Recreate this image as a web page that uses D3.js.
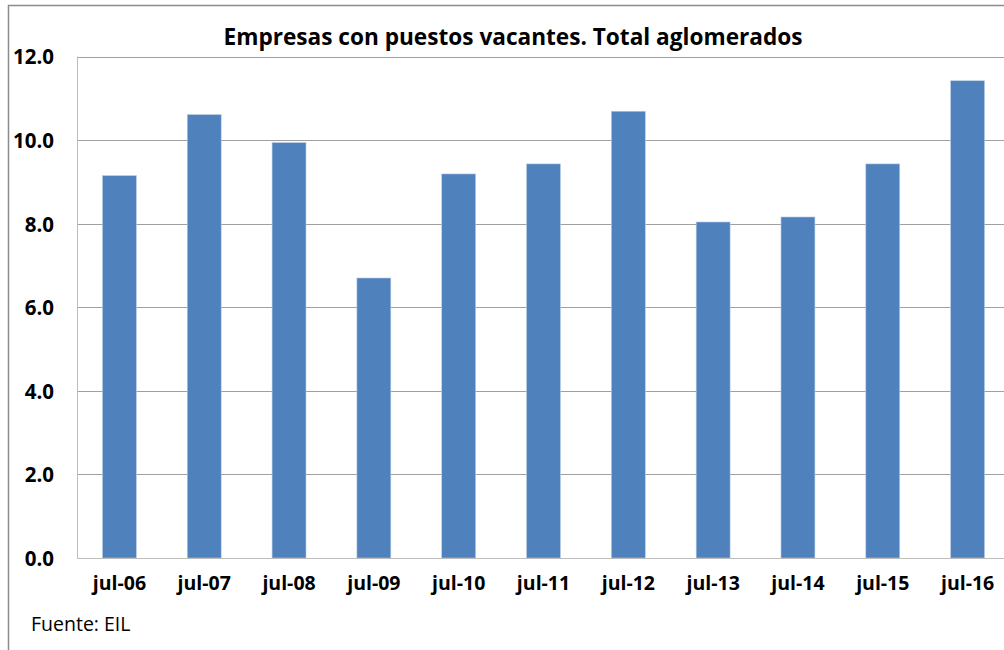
<!DOCTYPE html>
<html>
<head>
<meta charset="utf-8">
<script src="https://cdn.jsdelivr.net/npm/d3@7"></script>
<style>
  html, body { margin: 0; padding: 0; background: #fff; }
  svg { display: block; }
</style>
</head>
<body>
<div id="chart"></div>
<script>
// chart data
const categories = ["jul-06", "jul-07", "jul-08", "jul-09", "jul-10", "jul-11",
                    "jul-12", "jul-13", "jul-14", "jul-15", "jul-16"];
const values = [9.15, 10.61, 9.94, 6.70, 9.19, 9.43, 10.69, 8.04, 8.16, 9.43, 11.42];
const yTicks = [0, 2, 4, 6, 8, 10, 12];
const title = "Empresas con puestos vacantes. Total aglomerados";
const source = "Fuente: EIL";

const W = 1004, H = 650;
const plot = { left: 77, top: 56.5, right: 1010, bottom: 558 };

const svg = d3.select("#chart")
    .append("svg")
    .attr("width", W)
    .attr("height", H);

// outer chart border
svg.append("rect")
    .attr("x", 8.5)
    .attr("y", 5.5)
    .attr("width", W + 20)
    .attr("height", H + 20)
    .attr("fill", "none")
    .attr("stroke", "#8c8c8c")
    .attr("stroke-width", 1.5);

const x = d3.scaleBand()
    .domain(categories)
    .range([plot.left, plot.right])
    .paddingInner(0.6)
    .paddingOuter(0.3);

const y = d3.scaleLinear()
    .domain([0, 12])
    .range([plot.bottom, plot.top]);

// gridlines
svg.append("g")
    .selectAll("line")
    .data(yTicks.filter(d => d > 0))
    .enter()
    .append("line")
    .attr("x1", plot.left)
    .attr("x2", W)
    .attr("y1", d => Math.round(y(d)) + 0.5)
    .attr("y2", d => Math.round(y(d)) + 0.5)
    .attr("stroke", "#a0a0a0")
    .attr("stroke-width", 1);

// bars
svg.append("g")
    .selectAll("rect")
    .data(values)
    .enter()
    .append("rect")
    .attr("x", (d, i) => x(categories[i]))
    .attr("y", d => y(d))
    .attr("width", x.bandwidth())
    .attr("height", d => y(0) - y(d))
    .attr("fill", "#4f81bd")
    .attr("stroke", "#b9cde5")
    .attr("stroke-width", 0.6);

// axis lines
svg.append("line")
    .attr("x1", plot.left + 0.5).attr("x2", plot.left + 0.5)
    .attr("y1", plot.top).attr("y2", plot.bottom)
    .attr("stroke", "#bdbdbd");
svg.append("line")
    .attr("x1", plot.left).attr("x2", W)
    .attr("y1", plot.bottom + 0.5).attr("y2", plot.bottom + 0.5)
    .attr("stroke", "#bdbdbd");

// y axis
const yAxis = svg.append("g")
    .attr("transform", `translate(${plot.left},0)`)
    .call(d3.axisLeft(y).tickValues(yTicks).tickFormat(d3.format(".1f")).tickSize(0).tickPadding(23));
yAxis.select(".domain").remove();
yAxis.selectAll("text")
    .attr("dy", "0.36em")
    .style("font-family", "'Open Sans', sans-serif")
    .style("font-weight", "bold")
    .style("font-size", "20.5px")
    .style("fill", "#000");

// x axis
const xAxis = svg.append("g")
    .attr("transform", `translate(0,${plot.bottom})`)
    .call(d3.axisBottom(x).tickSize(0).tickPadding(18));
xAxis.select(".domain").remove();
xAxis.selectAll("text")
    .attr("dy", "0.71em")
    .style("font-family", "'Open Sans', sans-serif")
    .style("font-weight", "bold")
    .style("font-size", "19.5px")
    .style("fill", "#000");

// title
const t = svg.append("text")
    .attr("x", 513)
    .attr("y", 45)
    .attr("text-anchor", "middle")
    .style("font-family", "'Open Sans', sans-serif")
    .style("font-weight", "bold")
    .style("font-size", "21px")
    .style("fill", "#000")
    .text(title);
const tw = t.node().getComputedTextLength();
if (tw > 0) t.style("font-size", (21 * 579 / tw) + "px");

// source note
svg.append("text")
    .attr("x", 31)
    .attr("y", 631)
    .style("font-family", "'Open Sans', sans-serif")
    .style("font-size", "19.5px")
    .style("fill", "#000")
    .text(source);
</script>
</body>
</html>
